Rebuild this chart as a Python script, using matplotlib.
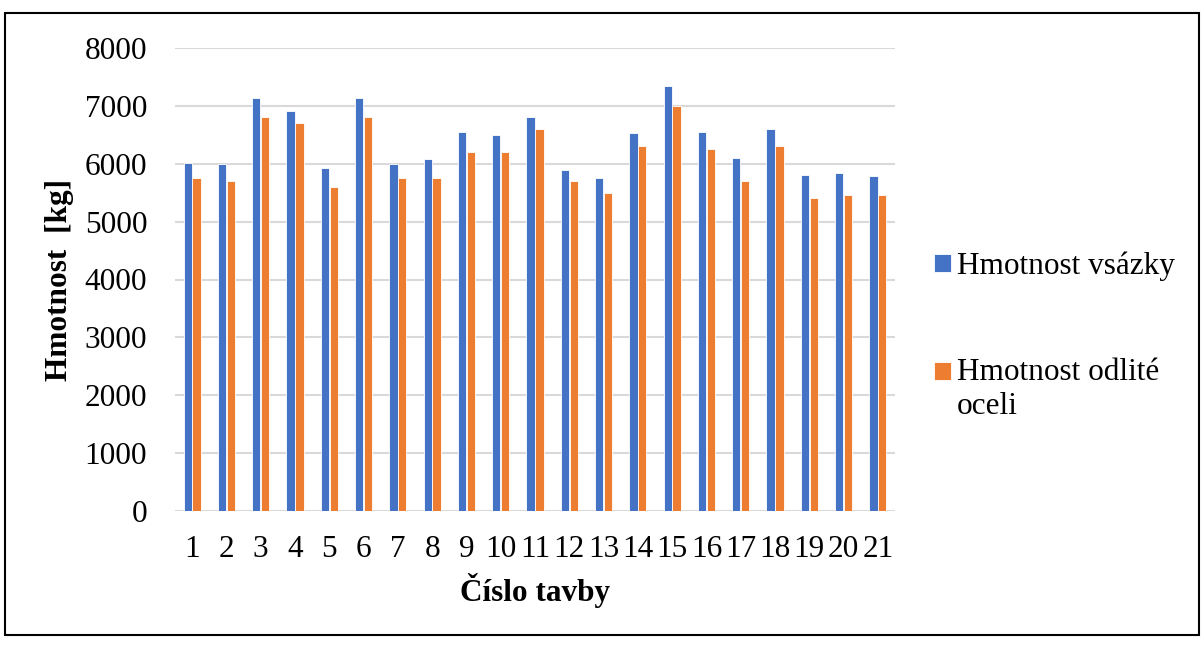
import numpy as np
import matplotlib.pyplot as plt
from matplotlib.patches import Rectangle
from matplotlib.legend_handler import HandlerPatch, update_from_first_child

# data
tavby = [str(i) for i in range(1, 22)]
hmotnost_vsazky = [6020, 6000, 7140, 6920, 5920, 7130, 6000, 6080, 6540, 6500,
                   6800, 5900, 5750, 6530, 7350, 6540, 6100, 6600, 5810, 5840, 5790]
hmotnost_oceli = [5750, 5700, 6800, 6700, 5600, 6800, 5750, 5750, 6200, 6200,
                  6600, 5700, 5500, 6300, 7000, 6250, 5700, 6300, 5400, 5460, 5460]

plt.rcParams['font.family'] = ['Liberation Serif', 'DejaVu Serif']
FS = 22.5

fig = plt.figure(figsize=(12.04, 6.48), dpi=100)
ax = fig.add_axes([175 / 1204, 1 - 511 / 648, 720 / 1204, 463 / 648])

x = np.arange(len(tavby))
w = 0.24
b1 = ax.bar(x - w / 2 - 0.01, hmotnost_vsazky, w, color='#4472C4', edgecolor='white',
            linewidth=0.6, label='Hmotnost vsázky', zorder=3)
b2 = ax.bar(x + w / 2 + 0.01, hmotnost_oceli, w, color='#ED7D31', edgecolor='white',
            linewidth=0.6, label='Hmotnost odlité\noceli', zorder=3)

ax.set_xlim(-0.5, len(tavby) - 0.5)
ax.set_ylim(0, 8000)
ax.set_yticks(range(0, 8001, 1000))
ax.set_xticks(x)
ax.set_xticklabels(tavby)
ax.yaxis.grid(True, color='#D9D9D9', linewidth=1.5, zorder=0)
ax.set_axisbelow(True)
for s in ax.spines.values():
    s.set_visible(False)
ax.tick_params(length=0, labelsize=FS)
ax.tick_params(axis='y', pad=20)
ax.tick_params(axis='x', pad=17)

ax.set_xlabel('Číslo tavby', fontsize=FS, fontweight='bold', labelpad=7)
ax.set_ylabel('Hmotnost  [kg]', fontsize=FS, fontweight='bold', labelpad=8)


# the marker of a two-line entry sits by its first line, as in Excel
def top_line_square(legend, orig_handle, xdescent, ydescent, width, height, fontsize):
    return Rectangle((-xdescent, -ydescent + 0.6 * fontsize), width, height)


leg = ax.legend(loc='center left', bbox_to_anchor=(918 / 1204, 1 - 336 / 648),
                bbox_transform=fig.transFigure, frameon=False, fontsize=FS,
                handlelength=0.55, handleheight=0.5, handletextpad=0.2,
                labelspacing=2.48, borderpad=0,
                handler_map={b2: HandlerPatch(patch_func=top_line_square,
                                              update_func=update_from_first_child)})

# outer frame
fig.patches.append(Rectangle((5 / 1204, 1 - 635 / 648), 1194 / 1204, 622 / 648,
                             transform=fig.transFigure, fill=False,
                             edgecolor='black', linewidth=1.5))

fig.savefig('out.png', dpi=100)
